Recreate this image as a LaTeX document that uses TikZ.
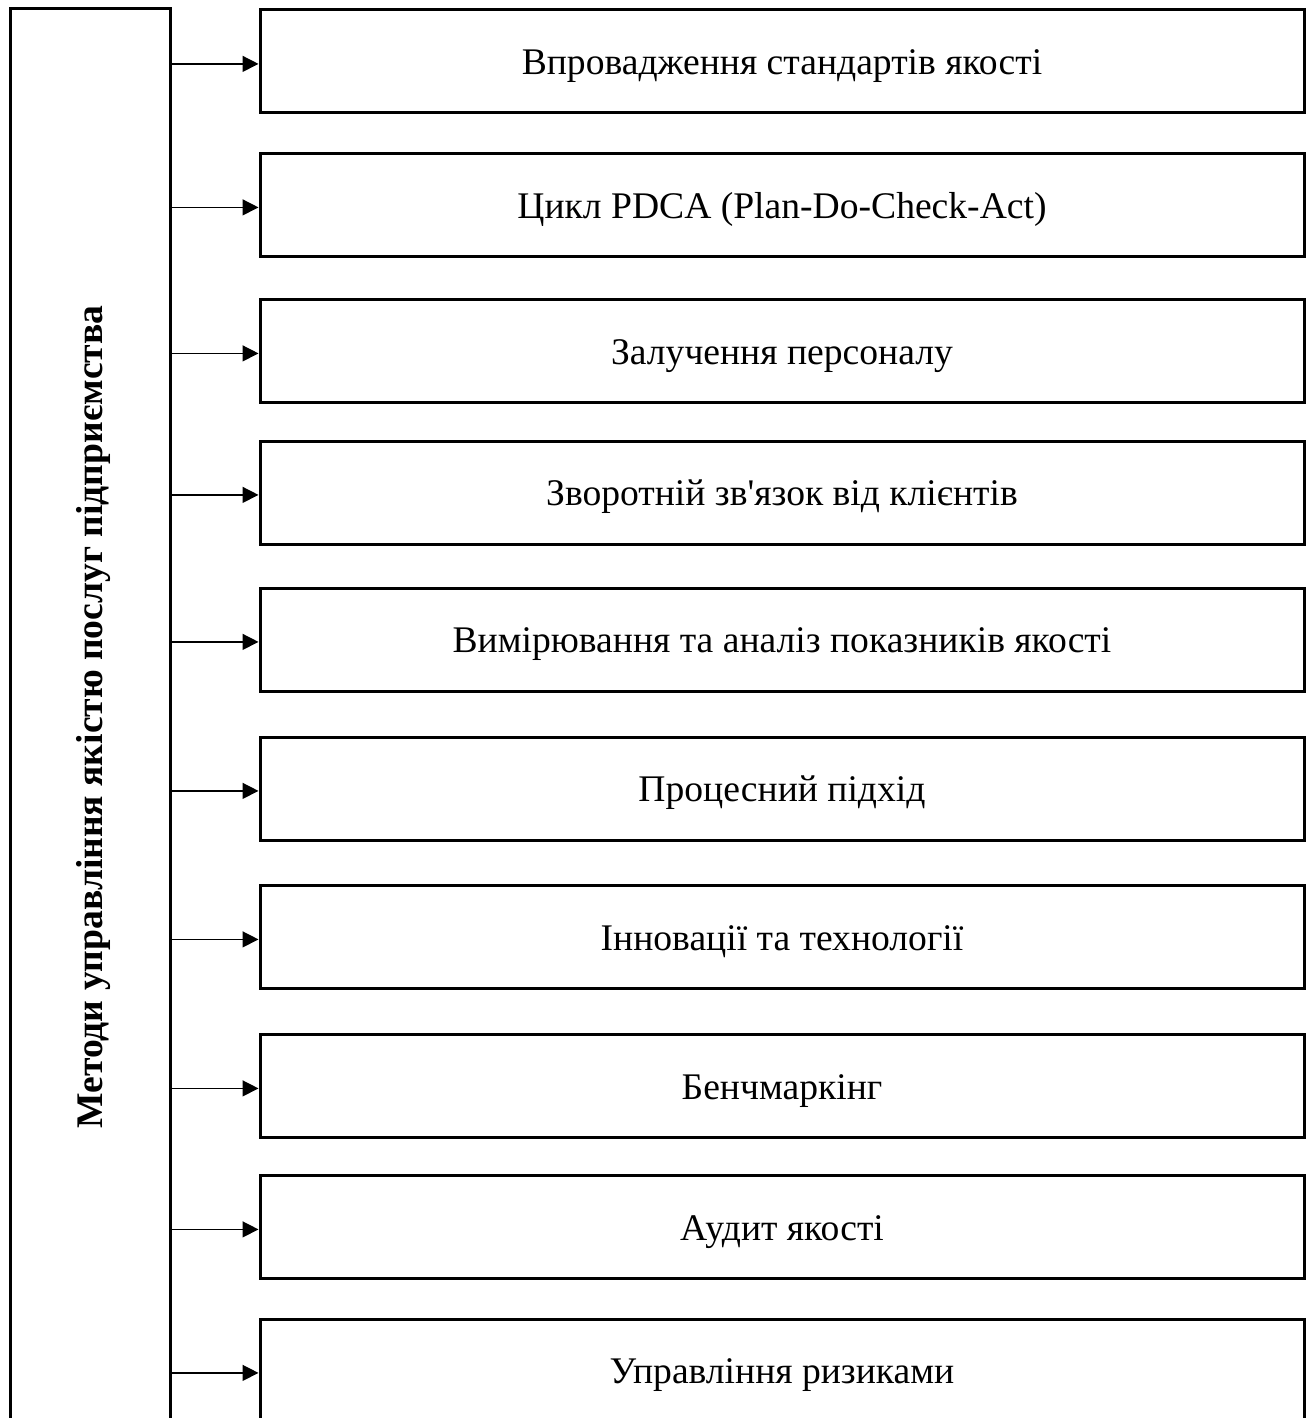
\documentclass[tikz,border=0pt]{standalone}
\usepackage{fontspec}
\setmainfont{Liberation Serif}
\usepackage{tikz}
\usetikzlibrary{arrows.meta, positioning}

\begin{document}
\begin{tikzpicture}[x=0.5pt, y=-0.5pt,
    blok/.style={draw, line width=1.5pt, inner sep=0pt},
    metod/.style={blok, minimum width=522pt, minimum height=51.5pt, text height=15pt, text depth=2pt,
        font=\fontsize{18.8}{22}\selectfont},
    strilka/.style={-{Triangle[length=8pt, width=8pt]}, line width=0.7pt}]
    \useasboundingbox (0,0) rectangle (1311,1418);
    \clip (0,0) rectangle (1311,1418);

    % Головний блок
    \node[blok, minimum width=80pt, minimum height=708pt] (metody) at (90.5,717) {};
    \node[rotate=90, font=\bfseries\fontsize{18.8}{22}\selectfont] (nazva) at (94,717)
        {Методи управління якістю послуг підприємства};

    % Методи та стрілки
    \foreach \i/\y/\txt in {
        1/61.5/{Впровадження стандартів якості},
        2/205/{Цикл PDCA (Plan-Do-Check-Act)},
        3/351/{Залучення персоналу},
        4/492.5/{Зворотній зв\textquotesingle язок від клієнтів},
        5/639.5/{Вимірювання та аналіз показників якості},
        6/788.5/{Процесний підхід},
        7/937/{Інновації та технології},
        8/1086/{Бенчмаркінг},
        9/1227/{Аудит якості},
        10/1370.5/{Управління ризиками}}{
        \node[metod] (m\i) at (782,\y) {\txt};
        \draw[strilka] ([yshift=-1.2pt]metody.east |- m\i.west) -- ([yshift=-1.2pt]m\i.west);
    }
\end{tikzpicture}
\end{document}
